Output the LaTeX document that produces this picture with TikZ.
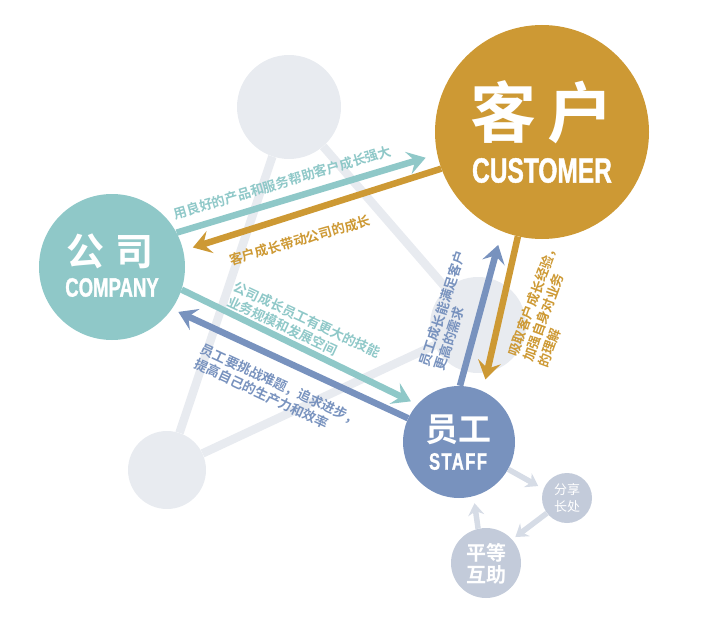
\documentclass[tikz,border=0pt]{standalone}
\usepackage{fontspec}
\usepackage{xcolor}
\usepackage{tikz}
\usetikzlibrary{positioning,calc,arrows.meta}

\newfontfamily\cjk{Noto Sans CJK SC}[BoldFont={Noto Sans CJK SC Bold}]
\newfontfamily\condfont{Liberation Sans Bold}[FakeStretch=0.7,FakeBold=1.2]
\newfontfamily\condwide{Liberation Sans Bold}[FakeStretch=0.7,FakeBold=1.2,LetterSpace=6]

\definecolor{tealc}{HTML}{8FC8C8}
\definecolor{goldc}{HTML}{CD9934}
\definecolor{bluec}{HTML}{7892BE}
\definecolor{bggrey}{HTML}{E8EBF0}
\definecolor{smallc}{HTML}{C3CBDA}
\definecolor{miniarrow}{HTML}{D6DCE6}

\begin{document}
\begin{tikzpicture}[
    x=1pt, y=-1pt,
    bgdot/.style={circle, fill=bggrey, inner sep=0pt},
    bgline/.style={draw=bggrey, line width=8.5pt},
    bigdot/.style={circle, inner sep=0pt},
    smalldot/.style={circle, fill=smallc, inner sep=0pt},
    flow/.style={line width=6.5pt, -{Stealth[length=18pt,width=23pt,inset=7pt]}},
    miniflow/.style={draw=miniarrow, line width=5.5pt, -{Stealth[length=12pt,width=16pt,inset=4pt]}},
    lbl/.style={font=\cjk\bfseries\fontsize{13.3}{16}\selectfont, inner sep=0pt, align=left},
    cntitle/.style={text=white, inner sep=0pt, align=center},
    entitle/.style={text=white, inner sep=0pt}
    ]
    \useasboundingbox (0,0) rectangle (720,634);
    
    % hintergrund: drei graue punkte
    \node[bgdot, minimum size=104pt] (bgtop) at (289,107) {};
    \node[bgdot, minimum size=78pt] (bgleft) at (167,470) {};
    \node[bgdot, minimum size=96pt] (bgmid) at (478,325) {};
    \draw[bgline] (bgtop) -- (bgleft);
    \draw[bgline] (bgtop) -- (bgmid);
    \draw[bgline] (bgleft) -- (bgmid);
    
    % die drei hauptkreise
    \node[bigdot, fill=tealc, minimum size=146pt] (company) at (112,267) {};
    \node[bigdot, fill=goldc, minimum size=214pt] (customer) at (542,132) {};
    \node[bigdot, fill=bluec, minimum size=112pt] (staff) at (459,442) {};
    \node[smalldot, minimum size=50pt] (share) at (567,498) {};
    \node[smalldot, minimum size=70pt] (equal) at (486,563) {};
    
    \node[cntitle, font=\cjk\bfseries\fontsize{38}{40}\selectfont] (companycn) at ($(company)+(-2,-16)$) {公\hspace{12pt}司};
    \node[entitle, font=\condfont\fontsize{26.5}{28}\selectfont] (companyen) at ($(company)+(0,20.5)$) {COMPANY};
    \node[cntitle, font=\cjk\bfseries\fontsize{66}{70}\selectfont] (customercn) at ($(customer)+(0,-19.5)$) {客\hspace{12pt}户};
    \node[entitle, font=\condfont\fontsize{35}{37}\selectfont] (customeren) at ($(customer)+(0,38.5)$) {CUSTOMER};
    \node[cntitle, font=\cjk\bfseries\fontsize{33}{35}\selectfont] (staffcn) at ($(staff)+(-1,-12)$) {员工};
    \node[entitle, font=\condwide\fontsize{23.7}{25}\selectfont] (staffen) at ($(staff)+(-1,19.5)$) {STAFF};
    \node[cntitle, font=\cjk\fontsize{13}{17}\selectfont] at (share) {分享\\长处};
    \node[cntitle, font=\cjk\bfseries\fontsize{20}{22}\selectfont] at ($(equal)+(0,1)$) {平等\\互助};
    
    % pfeile zwischen den kreisen
    \draw[flow, tealc, shorten >=12pt] (company.28) -- (customer.192);
    \draw[flow, goldc, shorten >=10pt] (customer.200) -- (company.13);
    \draw[flow, tealc, shorten >=7pt] (company.-18) -- (staff.138);
    \draw[flow, bluec, shorten >=7pt] (staff.155) -- (company.-35);
    \draw[flow, bluec, shorten >=14pt] (staff.89) -- (customer.248);
    \draw[flow, goldc, shorten >=12pt] (customer.257) -- (staff.65);
    
    % kleiner kreislauf unten rechts
    \draw[miniflow, shorten >=6pt] (staff.-29) -- (share.159);
    \draw[miniflow, shorten >=4pt] (share.217) -- (equal.42);
    \draw[miniflow, shorten >=7pt] (equal.103) -- (staff.-75);
    
    % beschriftungen
    \node[lbl, text=tealc, rotate=16.5] (lblcc) at (282.5,182.5) {用良好的产品和服务帮助客户成长强大};
    \node[lbl, text=goldc, rotate=16] (lblkc) at (300,240) {客户成长带动公司的成长};
    \node[lbl, text=tealc, rotate=-25] (lblcs) at (304,327) {公司成长员工有更大的技能\\业务规模和发展空间};
    \node[lbl, text=bluec, rotate=-25] (lblsc) at (277,392) {员工要挑战难题，追求进步，\\提高自己的生产力和效率};
    \node[lbl, text=bluec, rotate=72] (lblsk) at (450,311) {员工成长能满足客户\\更高的需求};
    \node[lbl, text=goldc, rotate=70] (lblks) at (548,305) {吸取客户成长经验，\\加强自身对业务\\的理解};
\end{tikzpicture}
\end{document}
